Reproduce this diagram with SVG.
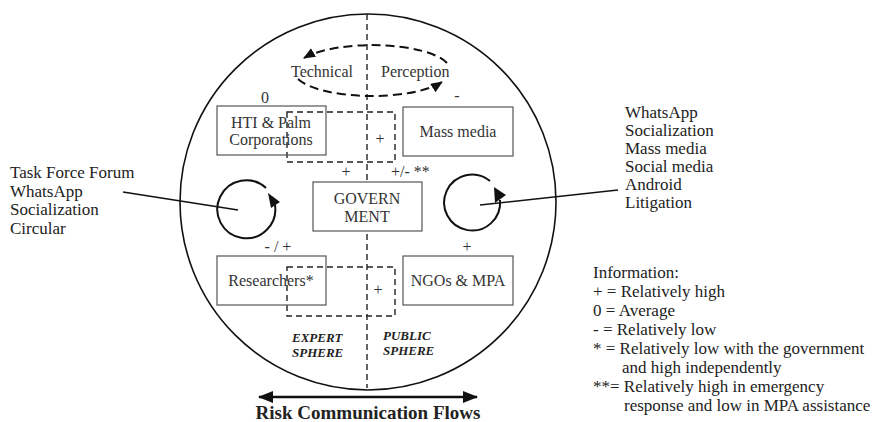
<svg xmlns="http://www.w3.org/2000/svg" width="875" height="422" viewBox="0 0 875 422">
<defs>
<style>
text{font-family:"Liberation Serif","Times New Roman",serif;fill:#222}
.in{font-size:16px;fill:#333}
.out{font-size:17px}
.c{text-anchor:middle}
.box{fill:none;stroke:#555;stroke-width:1.2}
.dash{fill:none;stroke:#222;stroke-width:1.4;stroke-dasharray:6 4}
.ell{fill:none;stroke:#111;stroke-width:2;stroke-dasharray:9 5}
.sph{font-size:13px;font-weight:bold;font-style:italic;fill:#222}
.loop{fill:none;stroke:#111;stroke-width:2}
</style>
<marker id="ah" markerUnits="userSpaceOnUse" markerWidth="14" markerHeight="12" refX="11" refY="5" orient="auto">
<path d="M0,0 L12,5 L0,10 z" fill="#111"/>
</marker>
<marker id="bh" markerUnits="userSpaceOnUse" markerWidth="16" markerHeight="14" refX="14" refY="6" orient="auto-start-reverse">
<path d="M0,0 L15,6 L0,12 z" fill="#111"/>
</marker>
</defs>
<rect width="875" height="422" fill="#fff"/>

<g id="sphere">
<circle cx="368" cy="202" r="188" fill="none" stroke="#111" stroke-width="1.6"/>
<line x1="367" y1="14" x2="367" y2="388" class="dash"/>
</g>

<g id="cycle-technical-perception">
<path class="ell" d="M447,63 A78 25 0 0 0 304,58" marker-end="url(#ah)"/>
<path class="ell" d="M298,79 A78 25 0 0 0 442,82" marker-end="url(#ah)"/>
<text class="in" x="291" y="77">Technical</text>
<text class="in" x="381" y="77">Perception</text>
</g>

<g id="overlap-top">
<rect x="287" y="112" width="108" height="50" class="dash"/>
<text class="in c" x="380" y="144">+</text>
</g>
<g id="overlap-bottom">
<rect x="287" y="267" width="108" height="49" class="dash"/>
<text class="in c" x="378" y="295">+</text>
</g>

<g id="hti">
<rect x="217" y="106" width="109" height="49" class="box"/>
<text class="in c" x="271" y="128">HTI &amp; Palm</text>
<text class="in c" x="271" y="145">Corporations</text>
<text class="in c" x="265" y="103">0</text>
</g>

<g id="massmedia">
<rect x="403" y="107" width="110" height="49" class="box"/>
<text class="in c" x="458" y="137">Mass media</text>
<text class="in c" x="457" y="101">-</text>
</g>

<g id="government">
<rect x="313" y="182" width="109" height="49" class="box" style="fill:#fff"/>
<text class="in c" x="367" y="204">GOVERN</text>
<text class="in c" x="367" y="222">MENT</text>
<text class="in c" x="346" y="177">+</text>
<text class="in" x="391" y="177">+/- **</text>
</g>

<g id="researchers">
<rect x="217" y="256" width="109" height="49" class="box"/>
<text class="in c" x="271" y="286">Researchers*</text>
<text class="in c" x="278" y="252">- / +</text>
</g>

<g id="ngos">
<rect x="403" y="256" width="110" height="49" class="box"/>
<text class="in c" x="458" y="286">NGOs &amp; MPA</text>
<text class="in c" x="467" y="252">+</text>
</g>

<g id="expert-sphere">
<text class="sph" x="292" y="342">EXPERT</text>
<text class="sph" x="292" y="357">SPHERE</text>
</g>
<g id="public-sphere">
<text class="sph" x="383" y="340">PUBLIC</text>
<text class="sph" x="383" y="355">SPHERE</text>
</g>

<g id="loop-left">
<path class="loop" d="M266,188 A29 29 0 1 0 275,205"/>
<polygon points="268,193 280,202 271,208" fill="#111"/>
</g>
<g id="loop-right">
<path class="loop" d="M490,181 A28 28 0 1 0 500,200"/>
<polygon points="494,187 506,195 495,203" fill="#111"/>
</g>

<g id="connectors">
<line x1="123" y1="192" x2="238" y2="210" stroke="#111" stroke-width="1.6"/>
<line x1="480" y1="205" x2="618" y2="190" stroke="#111" stroke-width="1.6"/>
<line x1="259" y1="397" x2="477" y2="397" stroke="#111" stroke-width="2.5" marker-start="url(#bh)" marker-end="url(#bh)"/>
</g>

<g id="left-channels">
<text class="out" x="10" y="178">Task Force Forum</text>
<text class="out" x="10" y="197">WhatsApp</text>
<text class="out" x="10" y="215">Socialization</text>
<text class="out" x="10" y="234">Circular</text>
</g>

<g id="right-channels">
<text class="out" x="625" y="118">WhatsApp</text>
<text class="out" x="625" y="136">Socialization</text>
<text class="out" x="625" y="154">Mass media</text>
<text class="out" x="625" y="172">Social media</text>
<text class="out" x="625" y="190">Android</text>
<text class="out" x="625" y="208">Litigation</text>
</g>

<g id="legend">
<text class="out" x="593" y="278">Information:</text>
<text class="out" x="593" y="297">+ = Relatively high</text>
<text class="out" x="593" y="316">0 = Average</text>
<text class="out" x="593" y="335">- = Relatively low</text>
<text class="out" x="593" y="354">* = Relatively low with the government</text>
<text class="out" x="622" y="373">and high independently</text>
<text class="out" x="593" y="392">**= Relatively high in emergency</text>
<text class="out" x="624" y="411">response and low in MPA assistance</text>
</g>

<g id="title">
<text x="368" y="419" text-anchor="middle" style="font-size:19px;font-weight:bold;fill:#222">Risk Communication Flows</text>
</g>
</svg>
